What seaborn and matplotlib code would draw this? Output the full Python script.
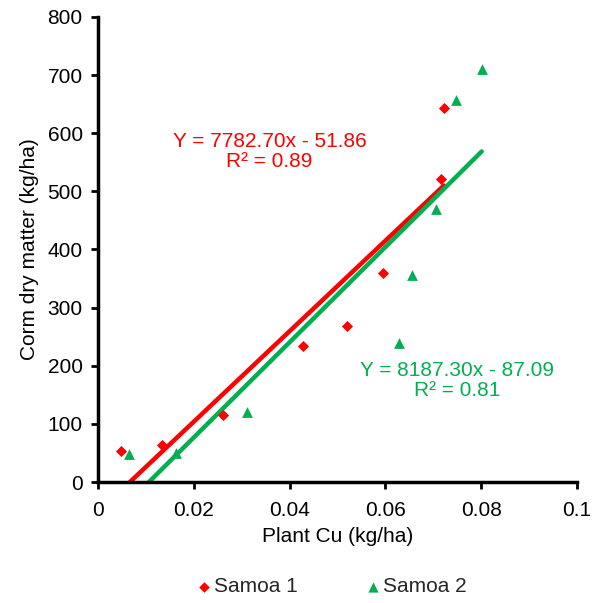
import numpy as np
import pandas as pd
import seaborn as sns
import matplotlib.pyplot as plt

# values
samoa1_cu = [0.0047, 0.0133, 0.0260, 0.0429, 0.0519, 0.0594, 0.0717, 0.0722]
samoa1_dm = [53, 64, 115, 234, 268, 359, 521, 644]
samoa2_cu = [0.0065, 0.0163, 0.0312, 0.0628, 0.0655, 0.0706, 0.0747, 0.0801]
samoa2_dm = [48, 50, 121, 240, 356, 470, 657, 711]

fit1 = (7782.70, -51.86, 0.89)
fit2 = (8187.30, -87.09, 0.81)

red = "#FF0000"
green = "#00B050"

sns.set_theme(style="white")
plt.rcParams['font.family'] = ['Liberation Sans', 'DejaVu Sans']

s1 = pd.DataFrame({"cu": samoa1_cu, "dm": samoa1_dm})
s2 = pd.DataFrame({"cu": samoa2_cu, "dm": samoa2_dm})

fig = plt.figure(figsize=(5.95, 6.03), dpi=100)
ax = fig.add_axes([98 / 595, 1 - 482 / 603, 479 / 595, 465 / 603])

# trendlines
for xs, (m, b, r2), col in [(samoa1_cu, fit1, red), (samoa2_cu, fit2, green)]:
    xx = np.linspace(max(min(xs), -b / m), max(xs), 50)
    sns.lineplot(x=xx, y=m * xx + b, ax=ax, color=col, linewidth=3.2, legend=False, zorder=2)

sns.scatterplot(data=s1, x="cu", y="dm", color=red, marker="D", s=32, linewidth=0,
                ax=ax, zorder=3, label="Samoa 1")
sns.scatterplot(data=s2, x="cu", y="dm", color=green, marker="^", s=60, linewidth=0,
                ax=ax, zorder=3, label="Samoa 2")

fs = 15
ax.text(0.0358, 569, "Y = 7782.70x - 51.86\nR² = 0.89", color=red, fontsize=fs,
        ha="center", va="center", linespacing=1.05)
ax.text(0.0749, 175, "Y = 8187.30x - 87.09\nR² = 0.81", color=green, fontsize=fs,
        ha="center", va="center", linespacing=1.05)

ax.set_xlim(0, 0.1)
ax.set_ylim(0, 800)
ax.set_xticks([0, 0.02, 0.04, 0.06, 0.08, 0.1])
ax.set_xticklabels(["0", "0.02", "0.04", "0.06", "0.08", "0.1"])
ax.set_yticks(range(0, 801, 100))
ax.tick_params(axis="both", direction="out", length=5, width=2, labelsize=fs,
               colors="black", left=True, bottom=True)
ax.tick_params(axis="x", pad=9)
ax.tick_params(axis="y", pad=6)
for s in ["top", "right"]:
    ax.spines[s].set_visible(False)
for s in ["left", "bottom"]:
    ax.spines[s].set_color("black")
    ax.spines[s].set_linewidth(2.5)

ax.set_xlabel("Plant Cu (kg/ha)", fontsize=fs, color="black", labelpad=5)
ax.set_ylabel("Corm dry matter (kg/ha)", fontsize=fs, color="black", labelpad=6)

ax.legend(loc="center", bbox_to_anchor=(0.489, -0.225), ncol=2, frameon=False,
          fontsize=fs, handlelength=0.6, handletextpad=0.2, columnspacing=3.3,
          markerscale=0.95)

fig.savefig("out.png", dpi=100)
